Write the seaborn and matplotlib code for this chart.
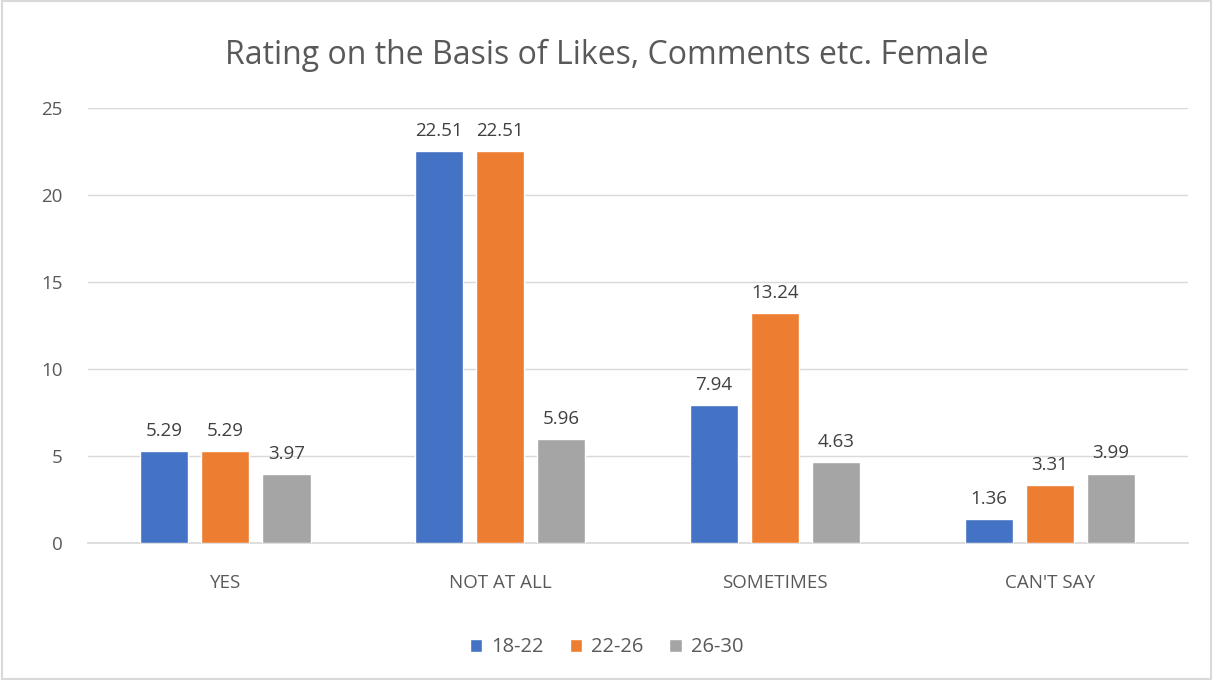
import numpy as np
import pandas as pd
import matplotlib
matplotlib.use("Agg")
import matplotlib.pyplot as plt
import seaborn as sns

categories = ["YES", "NOT AT ALL", "SOMETIMES", "CAN'T SAY"]
age_groups = ["18-22", "22-26", "26-30"]
vals_18_22 = [5.29, 22.51, 7.94, 1.36]
vals_22_26 = [5.29, 22.51, 13.24, 3.31]
vals_26_30 = [3.97, 5.96, 4.63, 3.99]
colors = ["#4472C4", "#ED7D31", "#A5A5A5"]

df = pd.DataFrame({
    "category": categories * 3,
    "age": [g for g in age_groups for _ in categories],
    "value": vals_18_22 + vals_22_26 + vals_26_30,
})

sns.set_theme(style="white")
plt.rcParams["font.family"] = ["Open Sans", "DejaVu Sans"]
TXT = "#595959"

fig = plt.figure(figsize=(12.13, 6.80), dpi=100)
ax = fig.add_axes([0.0725, 0.2015, 0.9065, 0.6395])

sns.barplot(data=df, x="category", y="value", hue="age", order=categories,
            hue_order=age_groups, palette=colors, width=0.666, gap=0.21,
            saturation=1, ax=ax, legend=True, zorder=3)

for cont in ax.containers:
    ax.bar_label(cont, fmt="%.2f", padding=8, fontsize=13.5, color="#404040")

ax.set_ylim(0, 25)
ax.set_yticks(range(0, 26, 5))
ax.set_xlim(-0.5, 3.5)
ax.yaxis.grid(True, color="#D9D9D9", linewidth=1)
ax.set_axisbelow(True)
for s in ["left", "right", "top"]:
    ax.spines[s].set_visible(False)
ax.spines["bottom"].set_color("#D9D9D9")
ax.tick_params(axis="both", labelsize=13.5, colors=TXT, length=0)
ax.tick_params(axis="y", pad=18)
ax.tick_params(axis="x", pad=22)
ax.set_xlabel("")
ax.set_ylabel("")

ax.legend(loc="center", ncol=3, frameon=False, fontsize=14.5,
          handlelength=0.6, handleheight=0.6, columnspacing=1.3,
          handletextpad=0.45, labelcolor=TXT)
ax.get_legend().set_bbox_to_anchor((0.5, 0.048), transform=fig.transFigure)

fig.text(0.5, 0.919, "Rating on the Basis of Likes, Comments etc. Female",
         ha="center", va="center", fontsize=23, color=TXT)

fig.patches.append(plt.Rectangle((0.002, 0.002), 0.996, 0.996, transform=fig.transFigure,
                                 fill=False, edgecolor="#D9D9D9", linewidth=1.5))

fig.savefig("out.png", dpi=100)
